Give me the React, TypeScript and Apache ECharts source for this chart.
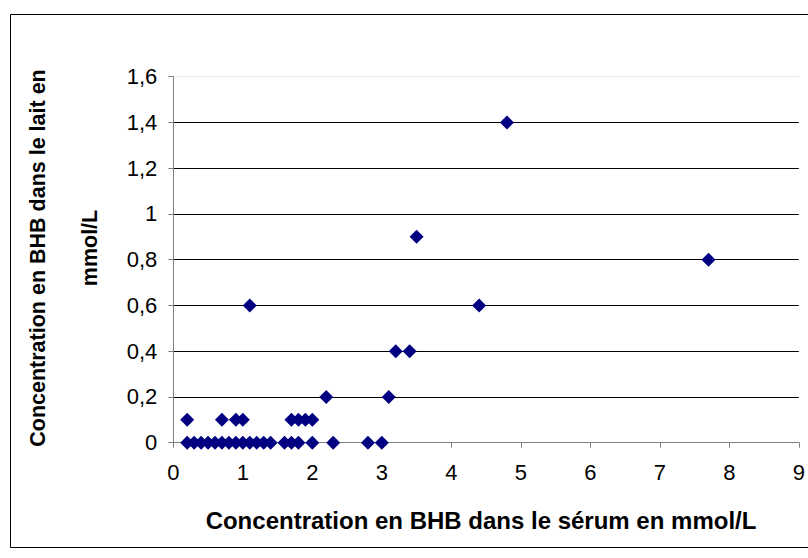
import React, { useEffect, useRef } from "react";
import * as echarts from "echarts";

// Concentration en BHB dans le sérum (x) / dans le lait (y), mmol/L
const serum = [
  0.2, 0.3, 0.4, 0.5, 0.6, 0.7, 0.8, 0.9, 1.0, 1.1, 1.2, 1.3, 1.4,
  1.6, 1.7, 1.8, 2.0, 2.3, 2.8, 3.0,
  0.2, 0.7, 0.9, 1.0, 1.7, 1.8, 1.9, 2.0,
  2.2, 3.1,
  3.2, 3.4,
  1.1, 4.4,
  7.7,
  3.5,
  4.8,
];
const lait = [
  0, 0, 0, 0, 0, 0, 0, 0, 0, 0, 0, 0, 0,
  0, 0, 0, 0, 0, 0, 0,
  0.1, 0.1, 0.1, 0.1, 0.1, 0.1, 0.1, 0.1,
  0.2, 0.2,
  0.4, 0.4,
  0.6, 0.6,
  0.8,
  0.9,
  1.4,
];

const xTitle = "Concentration en BHB dans le sérum en mmol/L";
const yTitleLine1 = "Concentration en BHB dans le lait en";
const yTitleLine2 = "mmol/L";

const FONT = "'Liberation Sans', Arial, sans-serif";

export default function App() {
  const ref = useRef<HTMLDivElement>(null);

  useEffect(() => {
    if (!ref.current) return;
    const chart = echarts.init(ref.current, null, { renderer: "svg" });
    const points = serum.map((x, i) => [x, lait[i]]);
    chart.setOption({
      animation: false,
      backgroundColor: "#ffffff",
      grid: { left: 173.3, top: 76.7, right: 6.3, bottom: 115.3, containLabel: false },
      xAxis: {
        type: "value",
        min: 0,
        max: 9,
        interval: 1,
        axisLine: { show: true, onZero: false, lineStyle: { color: "#808080", width: 1 } },
        axisTick: { show: true, length: 5, lineStyle: { color: "#808080" } },
        axisLabel: { color: "#000", fontSize: 22, fontFamily: FONT, margin: 19 },
        splitLine: { show: false },
      },
      yAxis: {
        type: "value",
        min: 0,
        max: 1.6,
        interval: 0.2,
        axisLine: { show: true, lineStyle: { color: "#808080", width: 1 } },
        axisTick: { show: true, length: 5, lineStyle: { color: "#808080" } },
        axisLabel: {
          color: "#000",
          fontSize: 22,
          fontFamily: FONT,
          margin: 16,
          formatter: (v: number) => String(Math.round(v * 10) / 10).replace(".", ","),
        },
        splitLine: {
          show: true,
          lineStyle: {
            color: ["#000", "#000", "#000", "#000", "#000", "#000", "#000", "#000", "#e6e6e6"],
            width: 1,
          },
        },
      },
      graphic: [
        {
          type: "rect",
          shape: { x: 10.5, y: 14.5, width: 820, height: 533 },
          style: { fill: "none", stroke: "#000", lineWidth: 1 },
          silent: true,
          z: -1,
        },
        {
          type: "text",
          x: 481,
          y: 520,
          style: {
            text: xTitle,
            font: `bold 24px ${FONT}`,
            fill: "#000",
            textAlign: "center",
            textVerticalAlign: "middle",
          },
        },
        {
          type: "text",
          x: 38,
          y: 258,
          rotation: Math.PI / 2,
          style: {
            text: yTitleLine1,
            font: `bold 21.5px ${FONT}`,
            fill: "#000",
            textAlign: "center",
            textVerticalAlign: "middle",
          },
        },
        {
          type: "text",
          x: 90,
          y: 248,
          rotation: Math.PI / 2,
          style: {
            text: yTitleLine2,
            font: `bold 21.5px ${FONT}`,
            fill: "#000",
            textAlign: "center",
            textVerticalAlign: "middle",
          },
        },
      ],
      series: [
        {
          type: "scatter",
          data: points,
          symbol: "diamond",
          symbolSize: 14,
          itemStyle: { color: "#000080", opacity: 1 },
          clip: false,
        },
      ],
    });
    return () => chart.dispose();
  }, []);

  return (
    <div
      ref={ref}
      style={{ position: "absolute", left: 0, top: 0, width: 808, height: 558 }}
    />
  );
}
